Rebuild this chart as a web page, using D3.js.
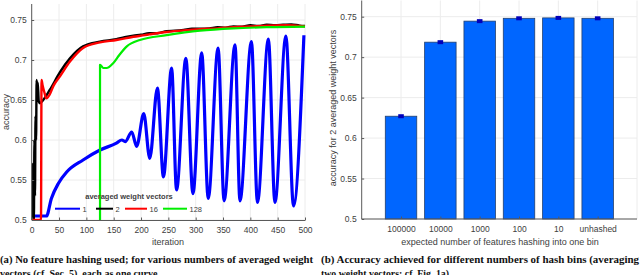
<!DOCTYPE html>
<html>
<head>
<meta charset="utf-8">
<script src="https://cdn.jsdelivr.net/npm/d3@7"></script>
<style>
  body { margin: 0; background: #fff; }
  svg { display: block; }
  text { font-family: "Liberation Sans", Arial, sans-serif; fill: #404040; }
  .caption { font-family: "Liberation Serif", serif; font-weight: bold; fill: #111; }
</style>
</head>
<body>
<svg id="chart" width="640" height="275"></svg>
<script>
// ---- left panel: accuracy vs iteration, one curve per number of averaged weight vectors
const seriesNames = ["1", "2", "16", "128"];
const seriesColors = ["#0000ff", "#000000", "#ff0000", "#00ee00"];

const avg1 = [[0,0.505],[27,0.505],[36,0.527],[49,0.546],[64,0.56],[94,0.575],[125,0.5875],[155,0.596],[165,0.6],
  [171,0.598],[183,0.61],[192,0.592],[205,0.633],[216,0.577],[230,0.665],[241,0.554],[256,0.69],[265,0.5375],
  [282,0.702],[295,0.533],[311,0.709],[323,0.527],[341,0.715],[352,0.524],[372,0.719],[381,0.524],[402,0.723],
  [413,0.522],[433,0.726],[445,0.522],[465,0.73],[479,0.5175],[498,0.731]];
const avg2 = [[0,0.5],[1,0.57],[2,0.5],[3,0.55],[4,0.5],[5,0.6],[6,0.53],[7,0.63],[8,0.6],[9,0.675],[10,0.655],
  [11,0.672],[13,0.648],[15,0.646],[21,0.65],[33,0.6625],[52,0.685],[70,0.702],[94,0.717],[125,0.723],[155,0.726],
  [170,0.7285],[186,0.7304],[200,0.7315],[215,0.7335],[230,0.7335],[247,0.736],[262,0.7365],[278,0.7375],[293,0.739],
  [308,0.739],[325,0.7395],[340,0.741],[355,0.7405],[369,0.742],[385,0.7415],[400,0.7435],[415,0.7425],[430,0.744],
  [445,0.7435],[460,0.744],[475,0.7445],[490,0.743],[500,0.7425]];
const avg16 = [[0,0.5],[17,0.5],[18,0.675],[20,0.668],[23,0.66],[27,0.652],[33,0.657],[40,0.668],[52,0.68],
  [70,0.698],[94,0.715],[125,0.722],[155,0.725],[186,0.729],[215,0.732],[247,0.735],[278,0.737],[308,0.7385],
  [340,0.7395],[369,0.741],[400,0.742],[430,0.743],[465,0.7435],[500,0.742]];
const avg128 = [[125,0.5],[125,0.694],[131,0.69],[137,0.69],[149,0.696],[160,0.706],[174,0.717],[198,0.725],
  [247,0.731],[308,0.7367],[369,0.7396],[430,0.741],[500,0.7417]];
const curves = [avg1, avg2, avg16, avg128];
const curveWidths = [3.2, 2.4, 2.4, 2.2];

const iterTicks = [0, 50, 100, 150, 200, 250, 300, 350, 400, 450, 500];
const accTicks = [0.5, 0.55, 0.6, 0.65, 0.7, 0.75];

// ---- right panel: accuracy per hashing level
const binLabels = ["100000", "10000", "1000", "100", "10", "unhashed"];
const binAccuracy = [0.627, 0.7185, 0.7445, 0.748, 0.7485, 0.748];

const svg = d3.select("#chart");
const yDomain = [0.5, 0.77];

function drawLeft() {
  const x = d3.scaleLinear().domain([0, 500]).range([31.7, 305]);
  const y = d3.scaleLinear().domain(yDomain).range([220, 4]);
  const g = svg.append("g");

  g.append("g").selectAll("line").data(iterTicks).join("line")
    .attr("x1", d => x(d)).attr("x2", d => x(d)).attr("y1", y(yDomain[0])).attr("y2", y(yDomain[1]))
    .attr("stroke", "#ececec").attr("stroke-width", 1);
  g.append("g").selectAll("line").data(accTicks).join("line")
    .attr("x1", x(0)).attr("x2", x(500)).attr("y1", d => y(d)).attr("y2", d => y(d))
    .attr("stroke", "#ececec").attr("stroke-width", 1);

  g.append("clipPath").attr("id", "clipL").append("rect")
    .attr("x", x(0)).attr("y", y(yDomain[1])).attr("width", x(500) - x(0) + 3).attr("height", y(yDomain[0]) - y(yDomain[1]));

  const line = d3.line().x(d => x(d[0])).y(d => y(d[1])).curve(d3.curveMonotoneX);
  // draw blue first so the others sit on top of it, legend order stays 1,2,16,128
  g.append("g").attr("clip-path", "url(#clipL)").selectAll("path").data(curves).join("path")
    .attr("d", d => line(d))
    .attr("fill", "none")
    .attr("stroke", (d, i) => seriesColors[i])
    .attr("stroke-width", (d, i) => curveWidths[i])
    .attr("stroke-linejoin", "round");

  const xAxis = g.append("g").attr("transform", `translate(0,${y(yDomain[0])})`)
    .call(d3.axisBottom(x).tickValues(iterTicks).tickSizeInner(-2.5).tickSizeOuter(0).tickPadding(7));
  const yAxis = g.append("g").attr("transform", `translate(${x(0)},0)`)
    .call(d3.axisLeft(y).tickValues(accTicks).tickFormat(d3.format("~g")).tickSizeInner(-2.5).tickSizeOuter(0).tickPadding(5));
  [xAxis, yAxis].forEach(a => {
    a.select(".domain").attr("stroke", "#5a5a5a");
    a.selectAll(".tick line").attr("stroke", "#5a5a5a");
    a.selectAll(".tick text").attr("font-size", 8.5).attr("fill", "#404040").style("font-family", "Liberation Sans, Arial, sans-serif");
  });
  yAxis.select(".domain").attr("d", `M0,${y(yDomain[1])}V${y(yDomain[0])}`);

  g.append("text").attr("x", 168).attr("y", 245).attr("text-anchor", "middle").attr("font-size", 9).text("iteration");
  g.append("text").attr("transform", `translate(9,${y(0.635)}) rotate(-90)`).attr("text-anchor", "middle")
    .attr("font-size", 9).text("accuracy");

  // legend (transparent, no box)
  const legend = g.append("g");
  legend.append("text").attr("x", 129).attr("y", 199).attr("text-anchor", "middle")
    .attr("font-size", 7.5).attr("font-weight", "bold").attr("fill", "#222").text("averaged weight vectors");
  const legendX = [55, 96, 125, 163];
  const legendLen = [25, 17, 22, 24];
  seriesNames.forEach((name, i) => {
    legend.append("line").attr("x1", legendX[i]).attr("x2", legendX[i] + legendLen[i])
      .attr("y1", 208.7).attr("y2", 208.7).attr("stroke", seriesColors[i]).attr("stroke-width", 2);
    legend.append("text").attr("x", legendX[i] + legendLen[i] + 2.5).attr("y", 211.5)
      .attr("font-size", 7.5).attr("fill", "#222").text(name);
  });
}

function drawRight() {
  const x = d3.scaleLinear().domain([0, 7]).range([361.7, 637]);
  const y = d3.scaleLinear().domain(yDomain).range([219, 0.5]);
  const g = svg.append("g");
  const idx = d3.range(1, 8);

  g.append("g").selectAll("line").data(idx).join("line")
    .attr("x1", d => x(d)).attr("x2", d => x(d)).attr("y1", y(yDomain[0])).attr("y2", y(yDomain[1]))
    .attr("stroke", "#ececec");
  g.append("g").selectAll("line").data(accTicks).join("line")
    .attr("x1", x(0)).attr("x2", x(7)).attr("y1", d => y(d)).attr("y2", d => y(d))
    .attr("stroke", "#ececec");

  const barW = (x(1) - x(0)) * 0.8;
  g.append("g").selectAll("rect").data(binAccuracy).join("rect")
    .attr("x", (d, i) => x(i + 1) - barW / 2)
    .attr("y", d => y(d))
    .attr("width", barW)
    .attr("height", d => y(yDomain[0]) - y(d))
    .attr("fill", "#0066ff")
    .attr("stroke", "#23406e").attr("stroke-width", 0.8);

  // error markers
  g.append("g").selectAll("rect").data(binAccuracy).join("rect")
    .attr("x", (d, i) => x(i + 1) - 2.8)
    .attr("y", d => y(d) - 2)
    .attr("width", 5.6).attr("height", 4)
    .attr("fill", "#0000bb");

  const xAxis = g.append("g").attr("transform", `translate(0,${y(yDomain[0])})`)
    .call(d3.axisBottom(x).tickValues(d3.range(1, 7)).tickFormat((d, i) => binLabels[i])
      .tickSizeInner(-2.5).tickSizeOuter(0).tickPadding(7));
  const yAxis = g.append("g").attr("transform", `translate(${x(0)},0)`)
    .call(d3.axisLeft(y).tickValues(accTicks).tickFormat(d3.format("~g")).tickSizeInner(-2.5).tickSizeOuter(0).tickPadding(5));
  [xAxis, yAxis].forEach(a => {
    a.select(".domain").attr("stroke", "#5a5a5a");
    a.selectAll(".tick line").attr("stroke", "#5a5a5a");
    a.selectAll(".tick text").attr("font-size", 8.5).attr("fill", "#404040").style("font-family", "Liberation Sans, Arial, sans-serif");
  });
  xAxis.select(".domain").attr("d", `M${x(0)},0H${x(7)}`);
  yAxis.select(".domain").attr("d", `M0,${y(yDomain[1])}V${y(yDomain[0])}`);

  g.append("text").attr("x", 500).attr("y", 245).attr("text-anchor", "middle").attr("font-size", 9)
    .text("expected number of features hashing into one bin");
  g.append("text").attr("transform", `translate(336,108) rotate(-90)`).attr("text-anchor", "middle")
    .attr("font-size", 9).text("accuracy for 2 averaged weight vectors");
}

function drawCaptions() {
  const lines = [
    { x: 0, y: 263, w: 313, t: "(a) No feature hashing used; for various numbers of averaged weight" },
    { x: 0, y: 277, w: 160, t: "vectors (cf. Sec. 5), each as one curve." },
    { x: 321, y: 263, w: 318, t: "(b) Accuracy achieved for different numbers of hash bins (averaging" },
    { x: 321, y: 277, w: 128, t: "two weight vectors; cf. Fig. 1a)" },
  ];
  svg.append("g").selectAll("text").data(lines).join("text")
    .attr("class", "caption")
    .attr("x", d => d.x).attr("y", d => d.y)
    .attr("font-size", 10.5)
    .attr("textLength", d => d.w).attr("lengthAdjust", "spacingAndGlyphs")
    .text(d => d.t);
}

drawLeft();
drawRight();
drawCaptions();
</script>
</body>
</html>
